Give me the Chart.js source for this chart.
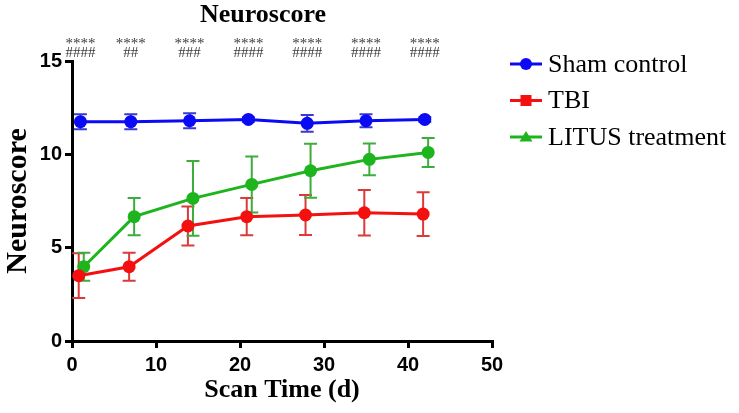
<!DOCTYPE html>
<html><head><meta charset="utf-8">
<script src="https://cdn.jsdelivr.net/npm/chart.js@4/dist/chart.umd.min.js"></script>
<style>html,body{margin:0;padding:0;background:#fff}#wrap{width:739px;height:413px}</style>
</head><body><div id="wrap"><canvas id="c" width="739" height="413"></canvas></div>
<script>
// ---- data ----
const chartTitle = 'Neuroscore';
const xTitle = 'Scan Time (d)';
const yTitle = 'Neuroscore';
const days = [1, 7, 14, 21, 28, 35, 42];
const seriesNames = ['Sham control', 'TBI', 'LITUS treatment'];
const shamMean = [11.75, 11.75, 11.8, 11.87, 11.66, 11.8, 11.87];
const shamSem  = [0.4, 0.4, 0.4, 0.12, 0.45, 0.35, 0.12];
const tbiMean  = [3.5, 3.98, 6.16, 6.66, 6.75, 6.87, 6.8];
const tbiSem   = [1.2, 0.75, 1.05, 1.0, 1.07, 1.22, 1.17];
const litusMean = [3.98, 6.66, 7.64, 8.39, 9.12, 9.73, 10.1];
const litusSem  = [0.75, 1.0, 2.0, 1.5, 1.45, 0.85, 0.78];
const sigStars = ['****', '****', '****', '****', '****', '****', '****'];
const sigHash  = ['####', '##', '###', '####', '####', '####', '####'];
const xTicks = [0, 10, 20, 30, 40, 50];
const yTicks = [0, 5, 10, 15];

// ---- styles ----
const SERIF = '"Liberation Serif", "Times New Roman", serif';
const SANS = '"Liberation Sans", Arial, sans-serif';
const styles = [
  {color: '#0a0af5', err: '#3a3ad0', dodge: 0, marker: 'circle'},
  {color: '#f51010', err: '#dc3a3a', dodge: -0.2, marker: 'rect'},
  {color: '#1db41d', err: '#3cac3c', dodge: 0.4, marker: 'triangle'}
];
const means = [shamMean, tbiMean, litusMean];
const sems = [shamSem, tbiSem, litusSem];

const datasets = means.map((m, s) => ({
  label: seriesNames[s],
  data: m.map((v, i) => ({x: days[i] + styles[s].dodge, y: v})),
  borderColor: styles[s].color,
  backgroundColor: styles[s].color,
  pointBackgroundColor: styles[s].color,
  pointBorderColor: styles[s].color,
  pointRadius: 6.5,
  pointBorderWidth: 0,
  borderWidth: 3,
  tension: 0,
  errColor: styles[s].err,
  sem: sems[s]
}));

const errorBars = {
  id: 'errorBars',
  beforeDatasetsDraw(chart) {
    const {ctx, scales: {x, y}} = chart;
    ctx.save();
    chart.data.datasets.forEach(ds => {
      ctx.strokeStyle = ds.errColor;
      ctx.lineWidth = 2;
      ds.data.forEach((p, i) => {
        const px = x.getPixelForValue(p.x);
        const yt = y.getPixelForValue(p.y + ds.sem[i]);
        const yb = y.getPixelForValue(p.y - ds.sem[i]);
        ctx.beginPath();
        ctx.moveTo(px, yt); ctx.lineTo(px, yb);
        ctx.moveTo(px - 6.5, yt); ctx.lineTo(px + 6.5, yt);
        ctx.moveTo(px - 6.5, yb); ctx.lineTo(px + 6.5, yb);
        ctx.stroke();
      });
    });
    ctx.restore();
  }
};

const decorations = {
  id: 'decorations',
  afterDraw(chart) {
    const {ctx, scales: {x}} = chart;
    ctx.save();
    // title
    ctx.fillStyle = '#000';
    ctx.font = 'bold 26px ' + SERIF;
    ctx.textAlign = 'center';
    ctx.textBaseline = 'middle';
    ctx.fillText(chartTitle, 263, 15);
    // significance marks
    ctx.fillStyle = '#3a3a3a';
    ctx.font = '15px ' + SERIF;
    ctx.textBaseline = 'alphabetic';
    days.forEach((d, i) => {
      const px = x.getPixelForValue(d);
      ctx.fillText(sigStars[i], px, 48);
      ctx.fillText(sigHash[i], px, 57);
    });
    // legend
    chart.data.datasets.forEach((ds, s) => {
      const cy = 64 + s * 36.5;
      ctx.strokeStyle = styles[s].color;
      ctx.fillStyle = styles[s].color;
      ctx.lineWidth = 3;
      ctx.beginPath(); ctx.moveTo(510, cy); ctx.lineTo(542, cy); ctx.stroke();
      const cx = 526;
      ctx.beginPath();
      if (styles[s].marker === 'circle') {
        ctx.arc(cx, cy, 6, 0, Math.PI * 2);
      } else if (styles[s].marker === 'rect') {
        ctx.rect(cx - 5.5, cy - 5.5, 11, 11);
      } else {
        ctx.moveTo(cx, cy - 6); ctx.lineTo(cx + 6.5, cy + 4.5); ctx.lineTo(cx - 6.5, cy + 4.5); ctx.closePath();
      }
      ctx.fill();
      ctx.fillStyle = '#000';
      ctx.font = '26px ' + SERIF;
      ctx.textAlign = 'left';
      ctx.textBaseline = 'middle';
      ctx.fillText(ds.label, 548, cy + 1);
    });
    ctx.restore();
  }
};

new Chart(document.getElementById('c'), {
  type: 'line',
  data: {datasets},
  plugins: [errorBars, decorations],
  options: {
    responsive: false,
    animation: false,
    devicePixelRatio: 1,
    layout: {padding: {top: 61, right: 247, left: 0, bottom: 0}},
    plugins: {legend: {display: false}, title: {display: false}, tooltip: {enabled: false}},
    scales: {
      x: {
        type: 'linear', min: 0, max: 50,
        afterBuildTicks: sc => { sc.ticks = xTicks.map(v => ({value: v})); },
        afterFit: sc => { sc.height = 72; },
        ticks: {color: '#000', font: {family: SANS, size: 20, weight: 'bold'}, padding: 5, maxRotation: 0},
        title: {display: true, text: xTitle, color: '#000', font: {family: SERIF, size: 26, weight: 'bold'}, padding: {top: 0, bottom: 7}},
        grid: {drawOnChartArea: false, drawTicks: true, tickLength: 7, color: '#000', lineWidth: 3},
        border: {display: true, color: '#000', width: 3}
      },
      y: {
        type: 'linear', min: 0, max: 15,
        afterBuildTicks: sc => { sc.ticks = yTicks.map(v => ({value: v})); },
        afterFit: sc => { sc.width = 72; },
        ticks: {color: '#000', font: {family: SANS, size: 20, weight: 'bold'}, padding: 3},
        title: {display: true, text: yTitle, color: '#000', font: {family: SERIF, size: 30, weight: 'bold'}, padding: {top: 0, bottom: 0}},
        grid: {drawOnChartArea: false, drawTicks: true, tickLength: 7, color: '#000', lineWidth: 3},
        border: {display: true, color: '#000', width: 3}
      }
    }
  }
});
</script></body></html>
